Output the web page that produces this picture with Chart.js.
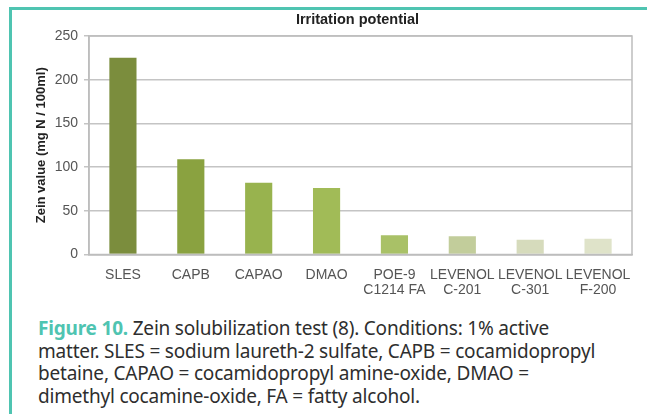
<!DOCTYPE html>
<html>
<head>
<meta charset="utf-8">
<script src="https://cdn.jsdelivr.net/npm/chart.js@4"></script>
<style>
  html, body { margin: 0; padding: 0; background: #fff; }
  #page { position: relative; width: 647px; height: 414px; overflow: hidden; }
  #frame { position: absolute; left: 9px; top: 7px; right: -5px; bottom: -5px;
           border-top: 3px solid #4fc4b1; border-left: 3px solid #4fc4b1; }
  #chartCanvas { position: absolute; left: 14px; top: 10px; }
  #caption { position: absolute; left: 38px; top: 317px; white-space: nowrap;
             font-family: "Noto Sans", sans-serif; font-size: 19px; line-height: 22.5px;
             letter-spacing: -0.2px; color: #2e2e2e; }
  #caption b { color: #4fc4b1; font-weight: bold; }
</style>
</head>
<body>
<div id="page">
  <div id="frame"></div>
  <canvas id="chartCanvas" width="633" height="300"></canvas>
  <div id="caption"><b>Figure 10.</b> Zein solubilization test (8). Conditions: 1% active<br>matter. SLES = sodium laureth-2 sulfate, CAPB = cocamidopropyl<br>betaine, CAPAO = cocamidopropyl amine-oxide, DMAO =<br>dimethyl cocamine-oxide, FA = fatty alcohol.</div>
</div>
<script>
// ─── Data ─────────────────────────────────────────────────────────────────────
const categories = [
  'SLES', 'CAPB', 'CAPAO', 'DMAO',
  ['POE-9', 'C1214 FA'], ['LEVENOL', 'C-201'], ['LEVENOL', 'C-301'], ['LEVENOL', 'F-200'],
];
const zeinValues = [225, 109, 82, 76, 22, 21, 17, 18];
const barColors = ['#7b8d3d', '#8aa240', '#98b34e', '#a1bb57', '#a9c167', '#c2cd9b', '#d6dbbc', '#dfe3c9'];
const yTicks = [0, 50, 100, 150, 200, 250];

const chartTitle = 'Irritation potential';
const yTitle = 'Zein value (mg N / 100ml)';

// Title centred over the plot area, plus the plot-area frame.
const plotDecor = {
  id: 'plotDecor',
  afterDraw(chart) {
    const { ctx, chartArea: a } = chart;
    ctx.save();
    ctx.strokeStyle = '#bdbdbd';
    ctx.lineWidth = 1.5;
    ctx.strokeRect(a.left, a.top, a.right - a.left, a.bottom - a.top);
    ctx.fillStyle = '#222';
    ctx.font = 'bold 14.5px "Liberation Sans", Arial, sans-serif';
    ctx.textAlign = 'center';
    ctx.textBaseline = 'middle';
    ctx.fillText(chartTitle, (a.left + a.right) / 2 - 3, 10);
    ctx.restore();
  },
};

const canvas = document.getElementById('chartCanvas');
canvas.setAttribute('role', 'img');
canvas.setAttribute('aria-label', 'Bar chart of zein values by surfactant');

new Chart(canvas.getContext('2d'), {
  type: 'bar',
  data: {
    labels: categories,
    datasets: [{
      data: zeinValues,
      backgroundColor: barColors,
      borderWidth: 0,
      barPercentage: 0.4,
      categoryPercentage: 1,
    }],
  },
  options: {
    responsive: false,
    devicePixelRatio: 1,
    animation: false,
    layout: { padding: { top: 26, right: 15, left: 0, bottom: 0 } },
    plugins: { legend: { display: false }, tooltip: { enabled: false } },
    scales: {
      x: {
        grid: { display: false },
        border: { display: true, color: '#bdbdbd', width: 1.5 },
        ticks: {
          color: '#555', padding: 5, maxRotation: 0, autoSkip: false,
          font: { family: '"Liberation Sans", Arial, sans-serif', size: 14, lineHeight: 1.1 },
        },
        afterFit: (s) => { s.height = 55.5; },
      },
      y: {
        min: 0,
        max: 250,
        afterBuildTicks: (s) => { s.ticks = yTicks.map((v) => ({ value: v })); },
        grid: { color: '#c4c4c4', lineWidth: 1.5, tickLength: 5 },
        border: { display: true, color: '#bdbdbd', width: 1.5 },
        ticks: {
          color: '#555', padding: 6,
          font: { family: '"Liberation Sans", Arial, sans-serif', size: 14 },
        },
        title: {
          display: true, text: yTitle, color: '#222', padding: { top: 20, bottom: 0 },
          font: { family: '"Liberation Sans", Arial, sans-serif', size: 13, weight: 'bold' },
        },
        afterFit: (s) => { s.width = 75; },
      },
    },
  },
  plugins: [plotDecor],
});
</script>
</body>
</html>
